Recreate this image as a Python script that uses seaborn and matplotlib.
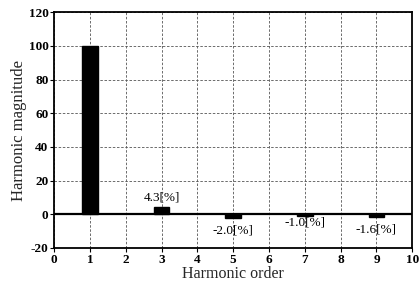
import matplotlib
matplotlib.use("Agg")
import matplotlib.pyplot as plt
import seaborn as sns
import pandas as pd

orders = [1, 3, 5, 7, 9]
magnitudes = [100, 4.3, -2.0, -1.0, -1.6]
labels = ["", "4.3[%]", "-2.0[%]", "-1.0[%]", "-1.6[%]"]
xticks = list(range(0, 11))
yticks = list(range(-20, 121, 20))

sns.set_theme(style="ticks")
plt.rcParams['font.family'] = ['Liberation Serif', 'DejaVu Serif']
plt.rcParams['axes.unicode_minus'] = False

df = pd.DataFrame({"order": orders, "mag": magnitudes})

fig = plt.figure(figsize=(4.19, 2.89), dpi=100)
ax = fig.add_axes([0.129, 0.142, 0.855, 0.816])
sns.barplot(data=df, x="order", y="mag", native_scale=True, width=0.22,
            color="black", edgecolor="black", ax=ax, zorder=3)
ax.set_xlim(0, 10)
ax.set_ylim(-20, 120)
ax.set_xticks(xticks)
ax.set_yticks(yticks)
ax.tick_params(labelsize=9.5, length=3, width=0.8, pad=1, colors="black")
for t in ax.get_xticklabels() + ax.get_yticklabels():
    t.set_fontweight("bold")
ax.grid(True, color="#555555", linestyle=(0, (3, 2)), linewidth=0.6)
ax.axhline(0, color="black", linewidth=1.6, zorder=4)
for s in ax.spines.values():
    s.set_linewidth(1.3)
    s.set_color("black")
ax.set_xlabel("Harmonic order", fontsize=11.5, labelpad=0)
ax.set_ylabel("Harmonic magnitude", fontsize=12, labelpad=1)

offsets = [0, 2.2, -7.5, -4, -7.5]
for o, m, lab, off in zip(orders, magnitudes, labels, offsets):
    if lab:
        ax.text(o, m + off, lab, ha="center", va="bottom" if m > 0 else "center",
                fontsize=9.5, color="black", zorder=5)

fig.savefig("out.png", dpi=100)
